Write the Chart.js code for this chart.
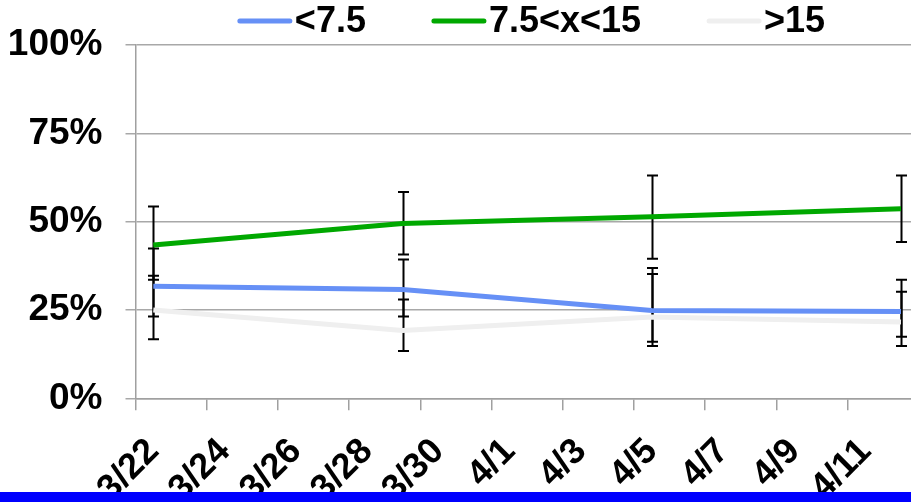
<!DOCTYPE html>
<html><head><meta charset="utf-8">
<script src="https://cdn.jsdelivr.net/npm/chart.js@4/dist/chart.umd.min.js"></script>
<style>
html,body{margin:0;padding:0;background:#fff;overflow:hidden;width:911px;height:502px;}
#wrap{position:relative;width:911px;height:502px;}
#band{position:absolute;left:0;top:492px;width:911px;height:10px;background:#0000ff;}
canvas{position:absolute;left:0;top:0;}
</style></head><body>
<div id="wrap"><canvas id="c" width="911" height="502"></canvas><div id="band"></div></div>
<script>
// ---- data ----
const categories = ['3/22', '3/29', '4/5', '4/12'];
const seriesNames = ['<7.5', '7.5<x<15', '>15'];
const below75 = [31.7, 30.8, 24.9, 24.6];
const mid75to15 = [43.4, 49.5, 51.4, 53.7];
const above15 = [25.0, 19.2, 23.0, 21.6];
const below75Low = [23.2, 23.2, 14.8, 17.4];
const below75High = [42.4, 39.3, 35.2, 33.6];
const midLow = [33.6, 40.7, 39.5, 44.3];
const midHigh = [54.3, 58.4, 63.1, 63.1];
const above15Low = [16.7, 13.4, 16.0, 14.8];
const above15High = [34.7, 28.0, 36.9, 30.2];
const xTickLabels = ['3/22', '3/24', '3/26', '3/28', '3/30', '4/1', '4/3', '4/5', '4/7', '4/9', '4/11'];
const yTickValues = [0, 25, 50, 75, 100];

function dayIndex(s) {
  const [m, d] = s.split('/').map(Number);
  return (m === 4 ? 31 : 0) + d - 22;
}
const toPoints = vals => categories.map((c, j) => ({ x: dayIndex(c), y: vals[j] }));

const colors = ['#6690F6', '#00A800', '#EFEFEF'];
const seriesVals = [below75, mid75to15, above15];
const errLows = [below75Low, midLow, above15Low];
const errHighs = [below75High, midHigh, above15High];

const FONT = '"Liberation Sans", Arial, sans-serif';

const errorBarPlugin = {
  id: 'errorBars',
  beforeDatasetsDraw(chart) {
    const { ctx, scales: { x, y } } = chart;
    ctx.save();
    ctx.strokeStyle = '#000';
    ctx.lineWidth = 2;
    const cap = 5.5;
    seriesVals.forEach((vals, i) => {
      categories.forEach((c, j) => {
        const px = Math.round(x.getPixelForValue(dayIndex(c))) + 0.5;
        const yl = y.getPixelForValue(errLows[i][j]);
        const yh = y.getPixelForValue(errHighs[i][j]);
        ctx.beginPath();
        ctx.moveTo(px, yl); ctx.lineTo(px, yh);
        ctx.moveTo(px - cap, yl); ctx.lineTo(px + cap, yl);
        ctx.moveTo(px - cap, yh); ctx.lineTo(px + cap, yh);
        ctx.stroke();
      });
    });
    ctx.restore();
  }
};

const legendPlugin = {
  id: 'lineLegend',
  afterDraw(chart) {
    const ctx = chart.ctx;
    ctx.save();
    ctx.font = 'bold 36px ' + FONT;
    ctx.textBaseline = 'middle';
    const lineLen = 54, gap = 3, itemGap = 66;
    const widths = seriesNames.map(n => ctx.measureText(n).width);
    const total = widths.reduce((a, w) => a + lineLen + gap + w, 0) + itemGap * (seriesNames.length - 1);
    let cx = 531.5 - total / 2;
    const cy = 21;
    seriesNames.forEach((n, i) => {
      ctx.strokeStyle = colors[i];
      ctx.lineWidth = 5;
      ctx.lineCap = 'round';
      ctx.beginPath();
      ctx.moveTo(cx + 2, cy); ctx.lineTo(cx + lineLen - 2, cy);
      ctx.stroke();
      ctx.fillStyle = '#000';
      ctx.fillText(n, cx + lineLen + gap, cy + 1);
      cx += lineLen + gap + widths[i] + itemGap;
    });
    ctx.restore();
  }
};

new Chart(document.getElementById('c'), {
  type: 'line',
  data: {
    datasets: seriesNames.map((n, i) => ({
      label: n,
      data: toPoints(seriesVals[i]),
      borderColor: colors[i],
      backgroundColor: colors[i],
      borderWidth: 5,
      pointRadius: 0,
      tension: 0,
      fill: false,
      order: 3 - i
    }))
  },
  options: {
    responsive: false,
    devicePixelRatio: 1,
    animation: false,
    layout: { padding: { top: 43.5, left: 0, right: 0, bottom: 0 } },
    plugins: { legend: { display: false }, tooltip: { enabled: false } },
    scales: {
      x: {
        type: 'linear',
        min: -0.5,
        max: 21.28,
        afterBuildTicks: s => { s.ticks = xTickLabels.map(l => ({ value: dayIndex(l) - 0.5 })); },
        afterFit: s => { s.height = 502 - 398.3; },
        ticks: {
          callback: (v, i) => xTickLabels[i],
          autoSkip: false,
          minRotation: 45,
          maxRotation: 45,
          labelOffset: 18,
          padding: 20,
          color: '#000',
          font: { family: FONT, size: 36, weight: 'bold' }
        },
        grid: { drawOnChartArea: false, color: '#a0a0a0', lineWidth: 1.5, tickLength: 12 },
        border: { color: '#a0a0a0', width: 1.5 }
      },
      y: {
        min: 0,
        max: 100,
        afterBuildTicks: s => { s.ticks = yTickValues.map(v => ({ value: v })); },
        afterFit: s => { s.width = 135.5; },
        ticks: {
          callback: v => v + '%',
          padding: 23,
          color: '#000',
          font: { family: FONT, size: 37, weight: 'bold' }
        },
        grid: { color: '#a8a8a8', lineWidth: 1.5, tickLength: 10 },
        border: { color: '#a0a0a0', width: 1.5 }
      }
    }
  },
  plugins: [errorBarPlugin, legendPlugin]
});
</script>
</body></html>
